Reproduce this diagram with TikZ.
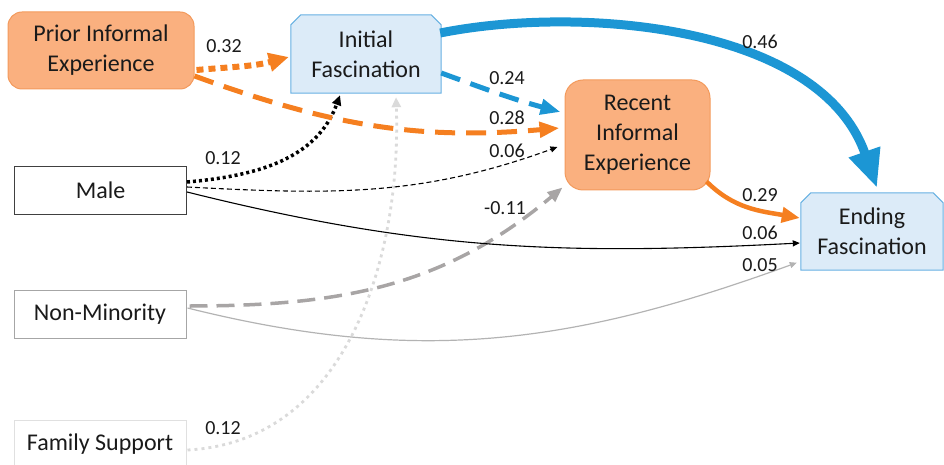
\documentclass[tikz,border=0pt]{standalone}
\usepackage{fontspec}
\setmainfont{Carlito}
\usetikzlibrary{arrows.meta,calc}
\definecolor{orfill}{HTML}{FAB07F}
\definecolor{ordraw}{HTML}{F39A5C}
\definecolor{orline}{HTML}{F57F20}
\definecolor{blfill}{HTML}{DCEBF8}
\definecolor{bldraw}{HTML}{66B0E2}
\definecolor{blline}{HTML}{1C96D4}
\definecolor{gydash}{HTML}{A8A5A5}
\definecolor{gysolid}{HTML}{B3B3B3}
\definecolor{gydot}{HTML}{DADADA}
\definecolor{txt}{HTML}{1A1A1A}
\newcommand\dgnodefont{\fontsize{24}{30}\selectfont}
\newcommand\dglabfont{\fontsize{20}{24}\selectfont}
\newcommand\dgsnip[1]{%
  \filldraw[fill=blfill,draw=bldraw,line width=1pt]
    (#1.south west) -- ([yshift=-10pt]#1.north west) -- ([xshift=10pt]#1.north west)
    -- ([xshift=-10pt]#1.north east) -- ([yshift=-10pt]#1.north east) -- (#1.south east) -- cycle;}
\pgfdeclarelayer{bg}
\pgfsetlayers{bg,main}
\tikzset{
  obox/.style={rounded corners=14pt, fill=orfill, draw=ordraw, line width=1pt,
    align=center, font=\dgnodefont, text=txt, inner sep=0pt},
  bbox/.style={align=center, font=\dgnodefont, text=txt, inner sep=0pt},
  wbox/.style={fill=white, line width=1pt, font=\dgnodefont, text=txt, inner sep=0pt,
    minimum width=172pt, minimum height=47pt},
  lab/.style={font=\dglabfont, text=txt, inner sep=0pt},
  odot/.style={draw=orline, line width=6pt, dash pattern=on 7pt off 5pt,
    -{Triangle[length=20pt,width=18pt]}},
  odash/.style={draw=orline, line width=5pt, dash pattern=on 20pt off 11pt,
    -{Triangle[length=20pt,width=15pt]}},
  bdash/.style={draw=blline, line width=5pt, dash pattern=on 20pt off 11pt,
    -{Triangle[length=20pt,width=15pt]}},
  bthick/.style={draw=blline, line width=9pt, -{Triangle[length=38pt,width=31pt]}},
  osolid/.style={draw=orline, line width=4.5pt, -{Triangle[length=18pt,width=15pt]}},
  kdot/.style={draw=black, line width=3.5pt, dash pattern=on 3pt off 3pt,
    -{Triangle[length=10pt,width=9pt]}},
  kdash/.style={draw=black, line width=1.1pt, dash pattern=on 5pt off 3pt,
    -{Triangle[length=7pt,width=6pt]}},
  kthin/.style={draw=black, line width=1.1pt, -{Triangle[length=7pt,width=6pt]}},
  gdash/.style={draw=gydash, line width=3.5pt, dash pattern=on 18pt off 9pt,
    -{Triangle[length=15pt,width=12pt]}},
  gthin/.style={draw=gysolid, line width=1.2pt, -{Triangle[length=7pt,width=6pt]}},
  gdot/.style={draw=gydot, line width=2.8pt, dash pattern=on 3pt off 4pt,
    -{Triangle[length=10pt,width=9pt]}},
}
\begin{document}
\begin{tikzpicture}[x=1pt,y=1pt]
\useasboundingbox (0,0) rectangle (944,464);
\clip (0,0) rectangle (944,464);

% nodes
\node[obox, minimum width=186pt, minimum height=77pt] (prior) at (101,413.5) {Prior Informal\\Experience};
\node[bbox, minimum width=150pt, minimum height=78pt] (init) at (366,410) {Initial\\Fascination};
\node[obox, rounded corners=18pt, minimum width=145pt, minimum height=110pt] (recent) at (637.5,329) {Recent\\Informal\\Experience};
\node[bbox, minimum width=142pt, minimum height=77pt] (ending) at (872,232.5) {Ending\\Fascination};
\node[wbox, draw=black!75] (male) at (100.5,273.5) {Male};
\node[wbox, draw=black!35, minimum height=48pt] (nonmin) at (100,150) {Non-Minority};
\node[wbox, draw=black!12, minimum height=48pt] (family) at (100,20) {Family Support};
\begin{pgfonlayer}{bg}
\dgsnip{init}
\dgsnip{ending}
\end{pgfonlayer}

% connectors
\draw[gdot] ($(family.east)+(1,-6)$) to[out=3,in=-88] ($(init.south)+(30,-4)$);
\draw[gthin] ($(nonmin.east)+(1,6)$) to[out=-14,in=200] ($(ending.south west)+(-4,7.5)$);
\draw[gdash] ($(nonmin.east)+(3,8)$) to[out=0,in=220] ($(recent.south west)+(-2,3)$);
\draw[kthin] ($(male.east)+(0,-1.5)$) to[out=-14,in=183] ($(ending.west)+(-1,-11.5)$);
\draw[kdash] ($(male.east)+(0,3.5)$) to[out=-3,in=200] ($(recent.west)+(-7,-12)$);
\draw[kdot] ($(male.east)+(0,8.5)$) to[out=5,in=-110] ($(init.south)+(-26,-2)$);
\draw[odash] ($(prior.east)+(0,-25.5)$) to[out=-20,in=185] ($(recent.west)+(-5,7)$);
\draw[odot] ($(prior.east)+(2,-19.5)$) to[out=5,in=195] ($(init.west)+(-2,-3)$);
\draw[bdash] ($(init.east)+(0,-19)$) to[out=-20,in=165] ($(recent.west)+(-4,23)$);
\draw[osolid] ($(recent.south east)+(-4,9)$) to[out=-45,in=170] ($(ending.west)+(-1,13.5)$);
\draw[bthick] ($(init.east)+(-1,21)$) .. controls +(140,28) and +(-57,163) .. ($(ending.north)+(5,5)$);

% labels
\node[lab] (l032) at (224,418) {0.32};
\node[lab] (l028) at (507,346) {0.28};
\node[lab] (l024) at (507,386) {0.24};
\node[lab] (l006a) at (507,313) {0.06};
\node[lab] (l046) at (760,422) {0.46};
\node[lab] (l029) at (760,269) {0.29};
\node[lab] (l006b) at (760,231) {0.06};
\node[lab] (l005) at (760,199) {0.05};
\node[lab] (l011) at (505,256) {-0.11};
\node[lab] (l012a) at (223,306) {0.12};
\node[lab] (l012b) at (223,36) {0.12};
\end{tikzpicture}
\end{document}
